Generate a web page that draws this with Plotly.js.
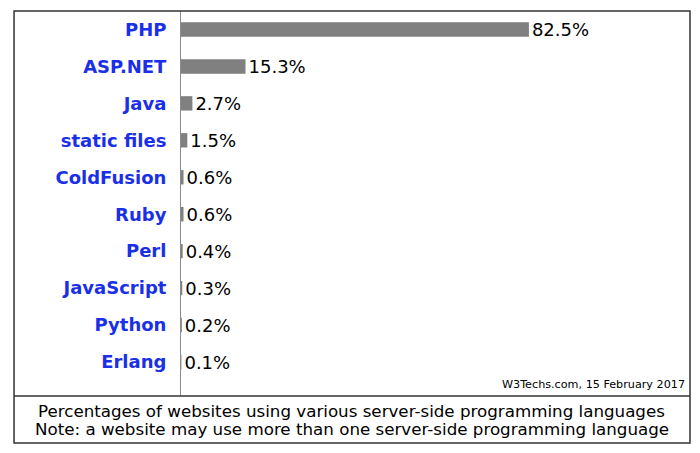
<!DOCTYPE html>
<html>
<head>
<meta charset="utf-8">
<script src="https://cdn.plot.ly/plotly-3.0.1.min.js"></script>
<style>
  html, body { margin: 0; padding: 0; background: #ffffff; }
  #plot { width: 700px; height: 453px; }
</style>
</head>
<body>
<div id="plot"></div>
<script>
// server-side language usage
const languages = ['PHP', 'ASP.NET', 'Java', 'static files', 'ColdFusion', 'Ruby', 'Perl', 'JavaScript', 'Python', 'Erlang'];
const shares = [82.5, 15.3, 2.7, 1.5, 0.6, 0.6, 0.4, 0.3, 0.2, 0.1];
const shareLabels = ['82.5%', '15.3%', '2.7%', '1.5%', '0.6%', '0.6%', '0.4%', '0.3%', '0.2%', '0.1%'];

const captionLines = [
    'Percentages of websites using various server-side programming languages',
    'Note: a website may use more than one server-side programming language'
];
const sourceNote = 'W3Techs.com, 15 February 2017';

const barTrace = {
    type: 'bar',
    orientation: 'h',
    x: shares,
    y: languages,
    width: 0.39,
    text: shareLabels,
    textposition: 'outside',
    constraintext: 'none',
    cliponaxis: false,
    textfont: { family: 'DejaVu Sans', size: 18, color: '#000000' },
    marker: { color: '#808080' },
    hoverinfo: 'none'
};

const layout = {
    width: 700,
    height: 453,
    margin: { l: 181, r: 10, t: 11, b: 57, pad: 0 },
    paper_bgcolor: '#ffffff',
    plot_bgcolor: '#ffffff',
    font: { family: 'DejaVu Sans', color: '#000000' },
    showlegend: false,
    xaxis: {
        range: [0, 120.7],
        showgrid: false,
        zeroline: false,
        showticklabels: false,
        showline: false,
        fixedrange: true
    },
    yaxis: {
        type: 'category',
        categoryorder: 'array',
        categoryarray: languages,
        range: [9.92, -0.5],
        showgrid: false,
        zeroline: false,
        showline: true,
        linecolor: '#8c8c8c',
        linewidth: 1,
        ticks: '',
        ticklabelstandoff: 10,
        tickfont: { family: 'DejaVu Sans', size: 18, color: '#1a2fe8', weight: 'bold' },
        fixedrange: true
    },
    shapes: [
        // outer frame
        { type: 'rect', xref: 'paper', yref: 'paper', x0: -0.328, x1: 1.0, y0: -0.122, y1: 1.0,
          line: { color: '#333333', width: 1.5 }, fillcolor: 'rgba(0,0,0,0)' },
        // divider above the caption
        { type: 'line', xref: 'paper', yref: 'paper', x0: -0.328, x1: 1.0, y0: 0, y1: 0,
          line: { color: '#333333', width: 1.5 } }
    ],
    annotations: [
        { xref: 'paper', yref: 'paper', x: 0.994, y: 0.008, xanchor: 'right', yanchor: 'bottom',
          text: sourceNote, showarrow: false, font: { size: 11.2, color: '#000000' } },
        { xref: 'paper', yref: 'paper', x: 0.335, y: -0.0395, xanchor: 'center', yanchor: 'middle',
          text: captionLines[0], showarrow: false, font: { size: 16.7, color: '#000000' } },
        { xref: 'paper', yref: 'paper', x: 0.335, y: -0.087, xanchor: 'center', yanchor: 'middle',
          text: captionLines[1], showarrow: false, font: { size: 16.7, color: '#000000' } }
    ]
};

const config = { displayModeBar: false, staticPlot: true };

Plotly.newPlot('plot', [barTrace], layout, config);
</script>
</body>
</html>
